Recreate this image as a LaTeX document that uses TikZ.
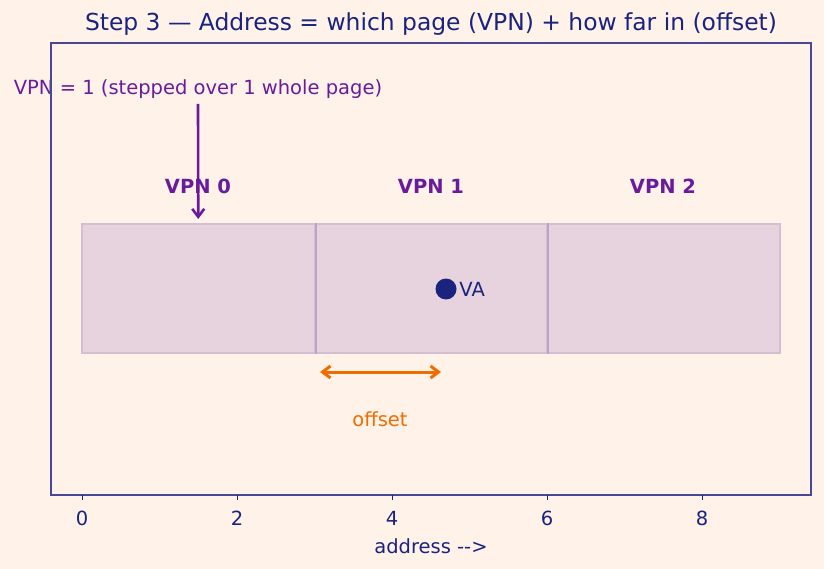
\documentclass[tikz,border=0pt]{standalone}
\usepackage{fontspec}
\setmainfont{DejaVu Sans}
\usetikzlibrary{arrows.meta,positioning}

\definecolor{bgcream}{RGB}{255,242,232}
\definecolor{navy}{RGB}{26,35,126}
\definecolor{vpnpurple}{RGB}{106,27,154}
\definecolor{offorange}{RGB}{239,108,0}
\definecolor{pagefill}{RGB}{231,211,221}
\definecolor{pageedge}{RGB}{212,190,208}
\definecolor{pagediv}{RGB}{184,164,200}
\definecolor{spine}{RGB}{72,72,150}

\begin{document}
\begin{tikzpicture}[
    x=1pt, y=-1pt,
    page/.style={rectangle, draw=pageedge, fill=pagefill, line width=2pt, minimum width=232.5pt, minimum height=129pt, inner sep=0pt},
    vpnlabel/.style={text=vpnpurple, font=\fontsize{19.5}{23}\selectfont\bfseries},
    plain/.style={text=navy, font=\fontsize{19.5}{23}\selectfont},
    note/.style={text=vpnpurple, font=\fontsize{19.5}{23}\selectfont},
    pointer/.style={-{Straight Barb[length=8pt,width=12pt]}, draw=vpnpurple, line width=2.6pt},
    span/.style={{Straight Barb[length=8pt,width=12pt]}-{Straight Barb[length=8pt,width=12pt]}, draw=offorange, line width=3pt},
    tick/.style={draw=navy, line width=1pt}
]

% background
\fill[bgcream] (0,0) rectangle (824,569);
\useasboundingbox (0,0) rectangle (824,569);

\node[text=navy, font=\fontsize{23.4}{28}\selectfont] (title) at (431,24) {Step 3 — Address = which page (VPN) + how far in (offset)};

% the three pages
\node[page] (page0) at (198.25,288.5) {};
\node[page] (page1) at (430.75,288.5) {};
\node[page] (page2) at (663.25,288.5) {};
\draw[draw=pagediv, line width=2pt] (page0.north east) -- (page0.south east);
\draw[draw=pagediv, line width=2pt] (page1.north east) -- (page1.south east);

\node[vpnlabel] (lbl0) at (198,186) {VPN 0};
\node[vpnlabel] (lbl1) at (431,186) {VPN 1};
\node[vpnlabel] (lbl2) at (663,186) {VPN 2};

% VPN note
\node[note] (vpnnote) at (198,89) {VPN = 1 (stepped over 1 whole page)};
\coordinate (arrtop) at (198,104);
\draw[pointer] (arrtop) -- ([yshift=4pt]page0.north);

% virtual address
\node[circle, fill=navy, minimum size=21pt, inner sep=0pt] (va) at (446,289) {};
\node[plain, right=2.5pt of va, inner sep=0pt] (valbl) {VA};

% offset span
\coordinate (offL) at (320,372);
\coordinate (offR) at (441,372);
\draw[span] (offL) -- (offR);
\node[text=offorange, font=\fontsize{19.5}{23}\selectfont] (offsetlbl) at (380,419) {offset};

% frame and axis
\draw[spine, line width=1.2pt] (51,43) rectangle (811,495);
\foreach \v in {0,2,4,6,8} {
    \draw[tick] (82+77.5*\v,495) -- ++(0,5);
    \node[plain] (tk\v) at (82+77.5*\v,518) {\v};
}
\node[plain] (xlabel) at (431,546) {address -{}->};

\end{tikzpicture}
\end{document}
